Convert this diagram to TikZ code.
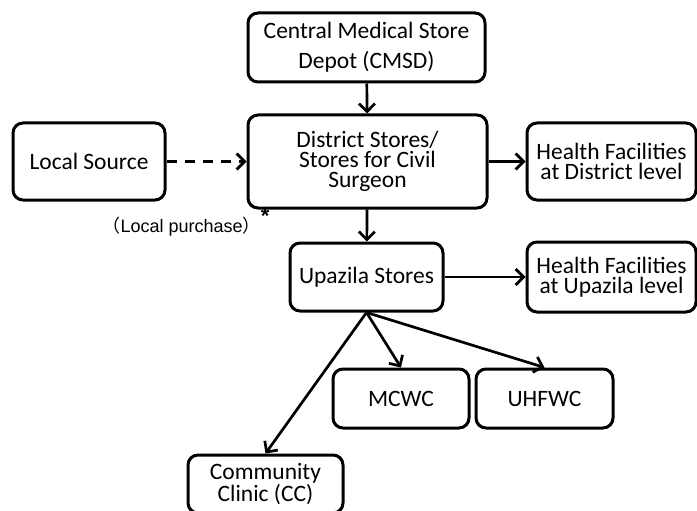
\documentclass[tikz,border=0pt]{standalone}
\usepackage{fontspec}
\setmainfont{Carlito}
\newfontfamily\notefont{Liberation Sans}
\newfontfamily\cjkfont{Noto Sans CJK JP}
\usetikzlibrary{arrows.meta}

\begin{document}
\begin{tikzpicture}[x=1pt, y=-1pt, >={Straight Barb[length=8pt,width=16pt]},
  box/.style={draw, line width=3pt, rounded corners=10pt, align=center,
    inner sep=0pt, font=\fontsize{23.5}{20}\selectfont},
  link/.style={->, line width=2.7pt}]
\useasboundingbox (0,0) rectangle (697,511);
% stores
\node[box, minimum width=237pt, minimum height=69pt] (cmsd) at (366.5,47.5)
  {Central Medical Store\\[10pt]Depot (CMSD)};
\node[box, minimum width=239pt, minimum height=93pt] (dist) at (367.5,161.5)
  {District Stores/\\Stores for Civil\\Surgeon};
\node[box, minimum width=152pt, minimum height=77pt] (local) at (89,161.5) {Local Source};
\node[box, minimum width=153pt, minimum height=68pt] (upa) at (366.5,277) {Upazila Stores};
% facilities
\node[box, minimum width=169pt, minimum height=77pt] (hfd) at (611.5,161.5)
  {Health Facilities\\at District level};
\node[box, minimum width=169pt, minimum height=70pt] (hfu) at (611.5,277)
  {Health Facilities\\at Upazila level};
\node[box, minimum width=136pt, minimum height=59pt] (mcwc) at (401,398.5) {MCWC};
\node[box, minimum width=137pt, minimum height=59pt] (uhfwc) at (544.5,398.5) {UHFWC};
\node[box, minimum width=155pt, minimum height=58pt] (cc) at (265.5,484)
  {Community\\Clinic (CC)};
\node[font=\fontsize{18}{20}\selectfont\notefont] (note) at (186,222)
  {{\cjkfont （}Local purchase{\cjkfont ）}\raisebox{9pt}{\fontsize{22}{20}\selectfont\bfseries *}};
% links
\draw[link] (cmsd) -- (dist);
\draw[link, dash pattern=on 10pt off 8pt] (local) -- (dist);
\draw[link] (dist) -- (hfd);
\draw[link] (dist) -- (upa);
\draw[link] (upa) -- (hfu);
\foreach \t in {mcwc,uhfwc,cc}{
  \draw[link] (upa.south) -- (\t.north);
}
\end{tikzpicture}
\end{document}
